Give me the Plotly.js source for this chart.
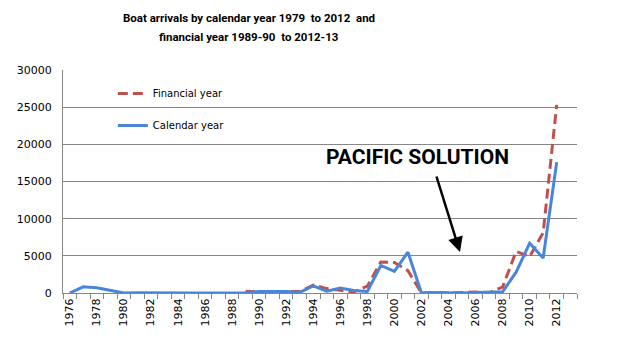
<!DOCTYPE html>
<html>
<head>
<meta charset="utf-8">
<script src="https://cdn.plot.ly/plotly-3.0.1.min.js"></script>
<style>html,body{margin:0;padding:0;background:#fff;}#chart{width:630px;height:351px;}</style>
</head>
<body>
<div id="chart"></div>
<script>
// Categories: calendar years 1976..2013 (financial years plotted at starting year)
const years = ['1976','1977','1978','1979','1980','1981','1982','1983','1984','1985','1986','1987','1988','1989','1990','1991','1992','1993','1994','1995','1996','1997','1998','1999','2000','2001','2002','2003','2004','2005','2006','2007','2008','2009','2010','2011','2012','2013'];
const calendarYear = [0,830,700,300,0,30,0,0,0,0,0,0,0,26,198,214,216,81,950,240,660,340,200,3700,2900,5500,1,53,0,11,60,148,161,2800,6700,4700,17600,null];
const financialYear = [null,null,null,null,null,null,null,null,null,null,null,null,null,224,158,78,194,194,1070,590,365,157,920,4175,4100,3000,0,82,0,61,133,25,800,5600,4900,8100,25300,null];
const tickLabels = years.map((y,i)=> i%2===0 ? y : '');
const titleLine1 = 'Boat arrivals by calendar year 1979\u00a0 to 2012\u00a0 and';
const titleLine2 = 'financial year 1989-90\u00a0 to 2012-13';

const traces = [
  {x: years, y: financialYear, name: 'Financial year', type: 'scatter', mode: 'lines',
   line: {color: '#C0504D', width: 3, dash: '10px,5px'}, legendgroup: 'a', connectgaps: false},
  {x: years, y: calendarYear, name: 'Calendar year', type: 'scatter', mode: 'lines',
   line: {color: '#4A86D8', width: 3}, legendgroup: 'b'}
];

const layout = {
  width: 630, height: 351,
  margin: {l: 63, r: 53, t: 70, b: 58},
  paper_bgcolor: '#fff', plot_bgcolor: '#fff',
  showlegend: true,
  title: {text: '<b>' + titleLine1 + '</b>',
          x: 249/630, xanchor: 'center', xref: 'container', y: 1 - 18/351, yanchor: 'middle',
          font: {family: 'Roboto, sans-serif', size: 11.5, color: '#000'}},
  xaxis: {type: 'category', tickmode: 'array', tickvals: years, ticktext: tickLabels,
          tickangle: -90, tickson: 'boundaries', ticks: 'outside', ticklen: 5, tickcolor: '#868686',
          showline: true, linecolor: '#868686', linewidth: 1, showgrid: false, zeroline: false,
          range: [-0.5, 37.5], tickfont: {family: 'DejaVu Sans, sans-serif', size: 11, color: '#000'}},
  yaxis: {range: [0, 30000], dtick: 5000, tick0: 0, tickformat: 'd', showgrid: true, gridcolor: '#868686', gridwidth: 1,
          showline: true, linecolor: '#868686', linewidth: 1, zeroline: false, ticks: '',
          ticklabelstandoff: 8,
          tickfont: {family: 'DejaVu Sans, sans-serif', size: 11, color: '#000'}},
  legend: {x: 0.097, y: 0.96, xanchor: 'left', yanchor: 'top', bgcolor: 'rgba(0,0,0,0)',
           traceorder: 'grouped', tracegroupgap: 13,
           font: {family: 'DejaVu Sans, sans-serif', size: 10, color: '#000'}},
  annotations: [
    {xref: 'paper', yref: 'paper', x: (249-63)/514, y: (293-37)/223, xanchor: 'center', yanchor: 'middle',
     showarrow: false, text: '<b>' + titleLine2 + '</b>',
     font: {family: 'Roboto, sans-serif', size: 11.5, color: '#000'}},
    {xref: 'paper', yref: 'paper', x: (460-63)/514, y: (293-252)/223, ax: -24, ay: -77,
     showarrow: true, arrowhead: 2, arrowsize: 1.2, arrowwidth: 2.5, arrowcolor: '#000', text: ''},
    {xref: 'paper', yref: 'paper', x: (417-63)/514, y: (293-157)/223, xanchor: 'center', yanchor: 'middle',
     showarrow: false, text: '<b>PACIFIC SOLUTION</b>',
     font: {family: 'Roboto, sans-serif', size: 21, color: '#000'}}
  ]
};

Plotly.newPlot('chart', traces, layout, {displayModeBar: false, staticPlot: true});
</script>
</body>
</html>
